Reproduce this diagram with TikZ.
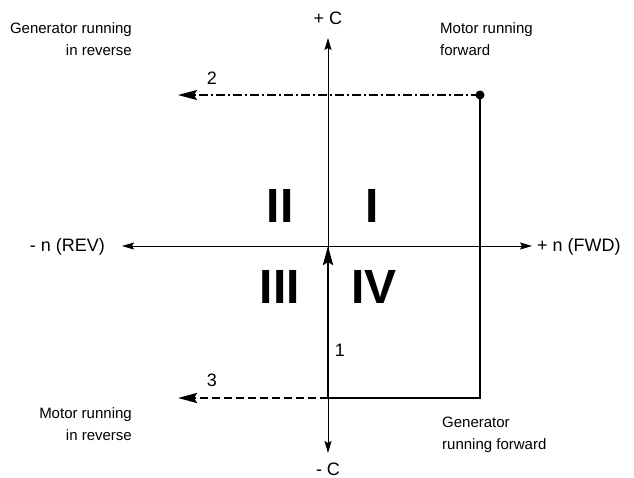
\documentclass[tikz,border=0pt]{standalone}
\usepackage{fontspec}
\setmainfont{Liberation Sans}
\usetikzlibrary{arrows.meta}
\begin{document}
\begin{tikzpicture}[x=1pt,y=-1pt,
  lbl/.style={font=\fontsize{15}{22}\selectfont, inner sep=0pt},
  axlbl/.style={font=\fontsize{18}{20}\selectfont, inner sep=0pt},
  quad/.style={font=\fontsize{48}{50}\selectfont\bfseries, inner sep=0pt},
  axisline/.style={line width=0.9pt, -{Stealth[length=12pt,width=7pt,inset=2pt]}},
  thickline/.style={line width=2.8pt},
  bigtip/.style={-{Stealth[length=19pt,width=10pt,inset=3pt]}},
  dashdotline/.style={line width=1.3pt, dash pattern=on 9pt off 3pt on 2pt off 3pt, bigtip},
  dashedline/.style={line width=2.8pt, dash pattern=on 8pt off 4pt, bigtip}]
\useasboundingbox (0,0) rectangle (634,478);
% key points
\coordinate (O) at (328,246);
\coordinate (top) at (328,38);
\coordinate (bot) at (328,453);
\coordinate (left) at (122,246);
\coordinate (right) at (532,246);
\coordinate (S) at (328,398);
\coordinate (C) at (480,398);
\coordinate (D) at (480,95);
\coordinate (E2) at (178,95);
\coordinate (E3) at (178,398);
% axes
\draw[axisline] (O) -- (top);
\draw[axisline] (O) -- (bot);
\draw[axisline] (O) -- (left);
\draw[axisline] (O) -- (right);
% trajectory
\draw[thickline, line join=miter] (S) -- (C) -- (D);
\draw[thickline, bigtip] (S) -- (O);
\fill (D) circle (4.5);
\draw[dashdotline] (D) -- (E2);
\draw[dashedline] (S) -- (E3);
% quadrant numerals
\node[quad] (q2) at (280,206) {II};
\node[quad] (q1) at (372,206) {I};
\node[quad] (q3) at (280,287) {III};
\node[quad] (q4) at (374,287) {IV};
% numbers
\node[axlbl] (n2) at (212,78) {2};
\node[axlbl] (n3) at (212,380) {3};
\node[axlbl] (n1) at (340,350) {1};
% axis labels
\node[axlbl] (pc) at (328,18) {+ C};
\node[axlbl] (mc) at (328,469) {- C};
\node[axlbl, anchor=east] (mn) at (105,247) {- n (REV)};
\node[axlbl, anchor=west] (pn) at (537,247) {+ n (FWD)};
% descriptions
\node[lbl, anchor=north east, align=right] (gr) at (132,22) {Generator running\\in reverse};
\node[lbl, anchor=north west, align=left] (mf) at (440,22) {Motor running\\forward};
\node[lbl, anchor=north east, align=right] (mr) at (132,407) {Motor running\\in reverse};
\node[lbl, anchor=north west, align=left] (gf) at (442,417) {Generator\\running forward};
\end{tikzpicture}
\end{document}
